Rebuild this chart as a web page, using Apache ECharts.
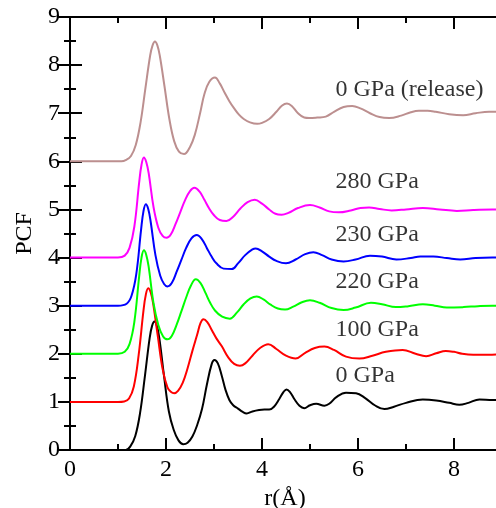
<!DOCTYPE html>
<html>
<head>
<meta charset="utf-8">
<script src="https://cdn.jsdelivr.net/npm/echarts@6/dist/echarts.min.js"></script>
<style>html,body{margin:0;padding:0;background:#fff;}#c{width:496px;height:508px;}</style>
</head>
<body>
<div id="c"></div>
<script>
// ---- data (r in Å, PCF with vertical offsets as plotted) ----
const r_0GPa = [0,1.0,1.16,1.26,1.36,1.46,1.56,1.66,1.71,1.76,1.81,1.86,1.96,2.06,2.16,2.26,2.36,2.45,2.55,2.65,2.75,2.85,2.95,3.01,3.08,3.16,3.24,3.32,3.4,3.5,3.6,3.68,3.8,3.94,4.05,4.15,4.25,4.36,4.45,4.51,4.58,4.68,4.78,4.88,5.0,5.13,5.3,5.4,5.55,5.75,5.96,6.15,6.35,6.55,6.75,7.0,7.35,7.63,7.9,8.11,8.3,8.53,8.8,9.0];
const g_0GPa = [0,0,0.0,0.08,0.29,0.77,1.53,2.33,2.58,2.67,2.58,2.33,1.53,0.8,0.42,0.2,0.12,0.15,0.28,0.52,0.85,1.35,1.78,1.87,1.8,1.55,1.25,1.04,0.93,0.86,0.79,0.76,0.8,0.83,0.84,0.84,0.9,1.06,1.21,1.26,1.21,1.05,0.92,0.87,0.93,0.96,0.92,0.96,1.1,1.19,1.18,1.08,0.93,0.85,0.9,0.98,1.05,1.03,0.98,0.94,0.98,1.05,1.04,1.05];

const r_100GPa = [0,1.0,1.13,1.23,1.33,1.43,1.53,1.58,1.63,1.68,1.73,1.83,1.93,2.03,2.1,2.17,2.25,2.35,2.45,2.55,2.65,2.72,2.78,2.86,2.95,3.05,3.16,3.3,3.42,3.54,3.65,3.8,3.96,4.13,4.3,4.5,4.7,4.9,5.1,5.3,5.5,5.75,6.03,6.3,6.58,6.93,7.2,7.42,7.63,7.83,8.0,8.17,8.4,8.72,9.0];
const g_100GPa = [1,1,1.01,1.07,1.32,1.97,2.89,3.23,3.36,3.28,3.06,2.36,1.68,1.3,1.21,1.18,1.23,1.4,1.7,2.06,2.4,2.64,2.72,2.66,2.5,2.32,2.16,1.92,1.79,1.75,1.8,1.96,2.12,2.2,2.1,1.96,1.9,2.02,2.12,2.15,2.08,1.94,1.9,1.96,2.04,2.08,2.0,1.95,2.01,2.06,2.04,2.0,1.98,1.98,1.99];

const r_220GPa = [0,1.0,1.14,1.24,1.34,1.44,1.49,1.54,1.59,1.64,1.74,1.84,1.94,2.03,2.12,2.22,2.32,2.42,2.52,2.62,2.72,2.82,2.92,3.02,3.17,3.33,3.48,3.62,3.76,3.89,4.03,4.18,4.33,4.48,4.65,4.83,5.0,5.2,5.45,5.7,5.95,6.27,6.5,6.79,7.05,7.35,7.6,7.85,8.2,8.5,8.8,9.0];
const g_220GPa = [2,2,2.04,2.2,2.66,3.6,4.0,4.15,4.05,3.8,3.05,2.6,2.36,2.3,2.37,2.6,2.88,3.17,3.42,3.55,3.47,3.27,3.06,2.9,2.77,2.73,2.86,3.03,3.15,3.19,3.13,3.02,2.94,2.92,2.98,3.07,3.11,3.06,2.95,2.91,2.96,3.06,3.03,2.97,2.99,3.03,3.0,2.96,2.97,2.99,3.0,3.0];

const r_230GPa = [0,1.0,1.18,1.28,1.38,1.48,1.53,1.58,1.63,1.68,1.78,1.88,1.96,2.03,2.12,2.22,2.32,2.42,2.53,2.64,2.75,2.85,2.95,3.05,3.2,3.37,3.5,3.65,3.8,3.87,4.0,4.15,4.3,4.5,4.7,4.9,5.07,5.25,5.45,5.7,5.95,6.25,6.5,6.8,7.1,7.3,7.57,7.85,8.13,8.45,8.8,9.0];
const g_230GPa = [3,3,3.04,3.2,3.65,4.57,4.96,5.11,5.01,4.75,4.05,3.62,3.45,3.40,3.47,3.7,3.95,4.2,4.4,4.47,4.38,4.2,4.02,3.88,3.77,3.76,3.88,4.05,4.17,4.19,4.13,4.02,3.93,3.88,3.96,4.07,4.11,4.05,3.96,3.92,3.96,4.04,4.02,3.96,3.99,4.02,4.02,3.99,3.96,3.99,4.0,4.0];

const r_280GPa = [0,1.0,1.14,1.24,1.34,1.44,1.49,1.54,1.59,1.64,1.74,1.84,1.93,2.01,2.1,2.2,2.3,2.4,2.5,2.59,2.7,2.8,2.9,3.0,3.12,3.26,3.4,3.55,3.7,3.85,4.0,4.15,4.28,4.41,4.55,4.75,5.0,5.2,5.4,5.6,5.85,6.05,6.23,6.45,6.7,7.0,7.35,7.7,8.06,8.4,8.8,9.0];
const g_280GPa = [4,4,4.04,4.2,4.64,5.55,5.93,6.08,5.98,5.75,5.05,4.62,4.45,4.41,4.48,4.7,4.95,5.2,5.38,5.45,5.37,5.2,5.02,4.88,4.78,4.76,4.85,5.02,5.15,5.2,5.12,5.0,4.91,4.89,4.93,5.03,5.09,5.04,4.96,4.94,4.98,5.03,5.04,5.01,4.98,5.0,5.03,5.0,4.97,4.99,5.0,5.0];

const r_release = [0,1.07,1.17,1.27,1.37,1.47,1.57,1.67,1.72,1.77,1.82,1.87,1.97,2.07,2.17,2.27,2.375,2.5,2.6,2.71,2.8,2.9,3.02,3.12,3.22,3.32,3.42,3.52,3.62,3.75,3.9,4.0,4.15,4.3,4.42,4.52,4.62,4.75,4.88,4.98,5.15,5.33,5.5,5.7,5.88,6.05,6.25,6.45,6.65,6.9,7.1,7.27,7.45,7.62,7.9,8.19,8.45,8.73,9.0];
const g_release = [6,6,6.03,6.11,6.34,6.81,7.51,8.2,8.41,8.49,8.41,8.2,7.55,6.88,6.42,6.2,6.15,6.3,6.55,7.0,7.4,7.65,7.74,7.62,7.43,7.25,7.1,6.97,6.88,6.81,6.78,6.8,6.88,7.03,7.16,7.2,7.15,7.0,6.91,6.9,6.91,6.93,7.03,7.13,7.15,7.1,7.0,6.92,6.9,6.95,7.02,7.05,7.05,7.03,6.98,6.96,7.0,7.03,7.03];

const seriesNames = ['0 GPa','100 GPa','220 GPa','230 GPa','280 GPa','0 GPa (release)'];
const seriesColors = ['#000000','#ff0000','#00ff00','#0000ff','#ff00ff','#bc8f8f'];
const seriesR = [r_0GPa, r_100GPa, r_220GPa, r_230GPa, r_280GPa, r_release];
const seriesG = [g_0GPa, g_100GPa, g_220GPa, g_230GPa, g_280GPa, g_release];

// curve labels: text, r position, PCF position
const labelText = ['0 GPa','100 GPa','220 GPa','230 GPa','280 GPa','0 GPa (release)'];
const labelR = [5.52, 5.52, 5.52, 5.52, 5.52, 5.52];
const labelY = [1.54, 2.5, 3.5, 4.47, 5.57, 7.48];

// x axis spans 0..10 so ticks sit at even/odd values; the frame at r = 9 lies just past the picture edge
const xTicks = {min: 0, max: 10, interval: 2};
const xFrameMax = 9;
const yTicks = {min: 0, max: 9, interval: 1};

const FONT = 'Liberation Serif, Times New Roman, serif';
const axisLine = {show: true, lineStyle: {color: '#000', width: 2}};
const axisTick = {show: true, inside: true, length: 12, lineStyle: {color: '#000', width: 2}};
const minorTick = {show: true, splitNumber: 2, length: 6, lineStyle: {color: '#000', width: 2}};
const PX_PER_R = 48;

const chart = echarts.init(document.getElementById('c'), null, {renderer: 'canvas'});

const series = seriesR.map((rs, i) => ({
  type: 'line',
  name: seriesNames[i],
  xAxisIndex: 0, yAxisIndex: 0,
  data: rs.map((x, k) => [x, seriesG[i][k]]),
  showSymbol: false,
  symbol: 'none',
  smooth: 0.4,
  lineStyle: {color: seriesColors[i], width: 2},
  itemStyle: {color: seriesColors[i]},
  z: 2
}));

series.push({
  type: 'scatter',
  xAxisIndex: 0, yAxisIndex: 0,
  data: labelText.map((t, i) => [labelR[i], labelY[i], t]),
  symbolSize: 1,
  itemStyle: {color: 'rgba(0,0,0,0)'},
  label: {
    show: true, position: 'right', distance: 0,
    formatter: p => p.value[2],
    fontSize: 24, fontFamily: FONT, color: '#000'
  },
  z: 3
});

chart.setOption({
  animation: false,
  backgroundColor: '#fff',
  grid: [
    {left: 70, top: 17, width: PX_PER_R * (xTicks.max - xTicks.min), height: 433, containLabel: false, outerBoundsMode: 'none'},
    {left: 70, top: 17, width: PX_PER_R * (xFrameMax - xTicks.min), height: 433, containLabel: false, outerBoundsMode: 'none'}
  ],
  xAxis: [{
    gridIndex: 0, type: 'value', position: 'bottom', min: xTicks.min, max: xTicks.max, interval: xTicks.interval,
    axisLine, axisTick, minorTick, splitLine: {show: false},
    axisLabel: {fontSize: 24, fontFamily: FONT, color: '#000', margin: 8},
    name: 'r(Å)', nameLocation: 'middle', nameGap: 31,
    nameTextStyle: {fontSize: 24, fontFamily: FONT, color: '#000', padding: [0, 50, 0, 0]}
  }, {
    gridIndex: 0, type: 'value', position: 'top', min: xTicks.min, max: xTicks.max, interval: xTicks.interval,
    axisLine, axisTick, minorTick, splitLine: {show: false}, axisLabel: {show: false}
  }, {
    gridIndex: 1, type: 'value', position: 'bottom', min: xTicks.min, max: xFrameMax,
    axisLine: {show: false}, axisTick: {show: false}, axisLabel: {show: false}, splitLine: {show: false}
  }],
  yAxis: [{
    gridIndex: 0, type: 'value', position: 'left', min: yTicks.min, max: yTicks.max, interval: yTicks.interval,
    axisLine, axisTick, minorTick, splitLine: {show: false},
    axisLabel: {fontSize: 24, fontFamily: FONT, color: '#000', margin: 10},
    name: 'PCF', nameLocation: 'middle', nameGap: 32,
    nameTextStyle: {fontSize: 24, fontFamily: FONT, color: '#000'}
  }, {
    gridIndex: 1, type: 'value', position: 'right', min: yTicks.min, max: yTicks.max, interval: yTicks.interval,
    axisLine, axisTick, minorTick, splitLine: {show: false}, axisLabel: {show: false}
  }],
  series
});
</script>
</body>
</html>
